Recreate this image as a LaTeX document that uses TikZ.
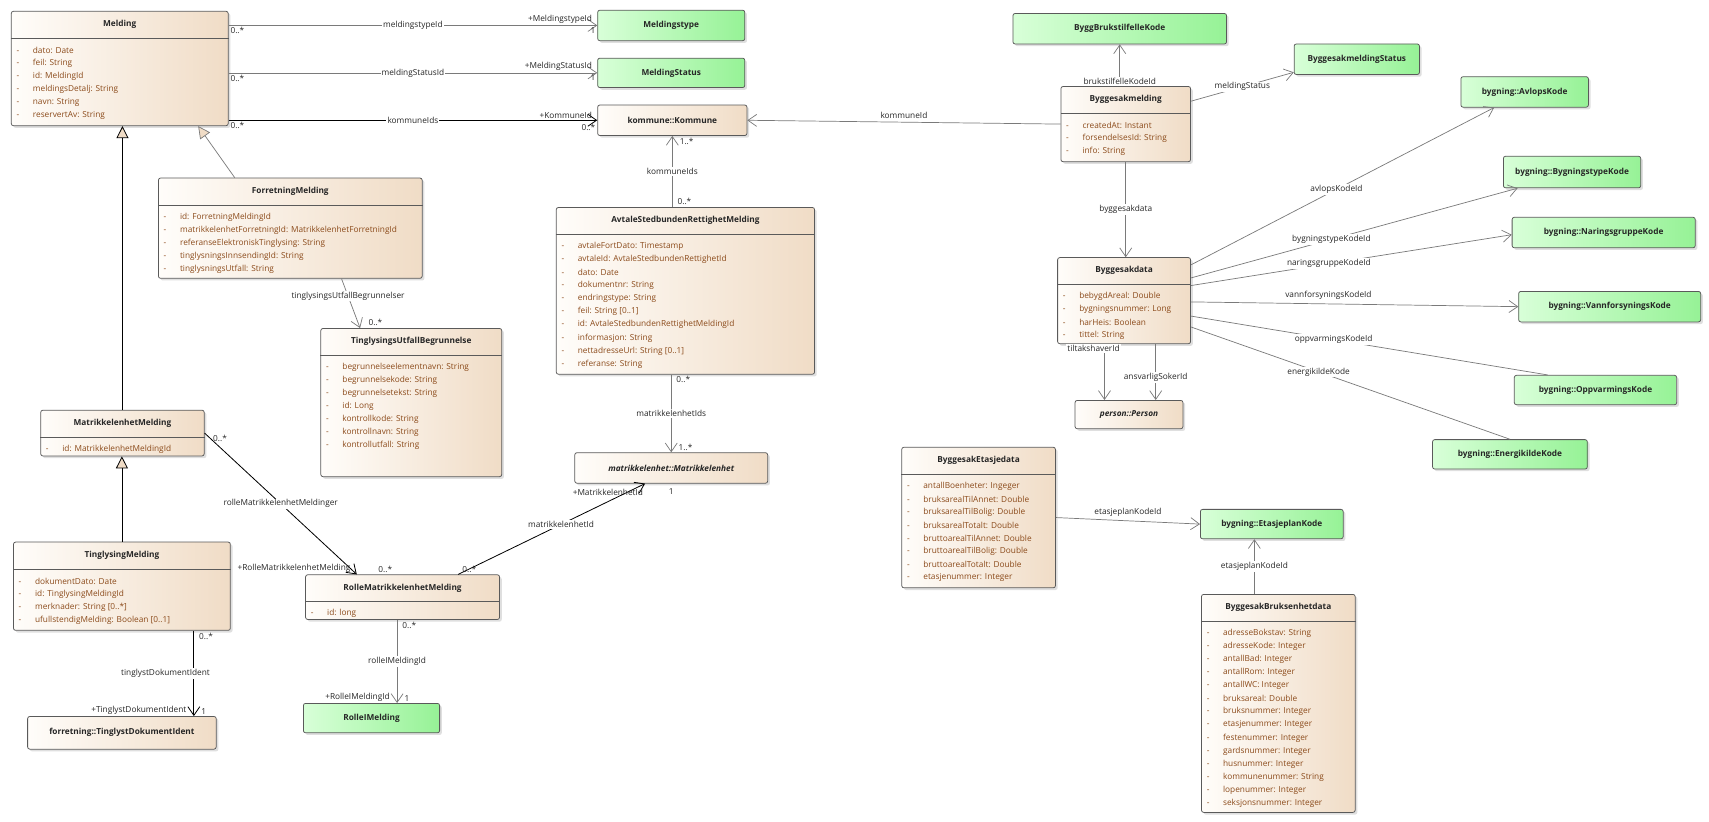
\documentclass[tikz,border=0pt]{standalone}
\usepackage{fontspec}
\setmainfont{Open Sans}
\usetikzlibrary{arrows.meta,shadows}

\definecolor{clsleft}{HTML}{FFFDFA}
\definecolor{clsright}{HTML}{F0DCC6}
\definecolor{codeleft}{HTML}{D8FFD8}
\definecolor{coderight}{HTML}{96F296}
\definecolor{attrtext}{HTML}{8B4A1A}
\definecolor{edge}{HTML}{5A5A5A}
\definecolor{wirecol}{HTML}{7A7A7A}

% class box with title and attribute list
\newcommand{\umlclass}[6]{%
  \node[cls, anchor=north west, minimum width=#3pt, minimum height=#4pt] (#1) at (#2) {};
  \node[ctitle] (#1-t) at ([yshift=-12.5pt]#1.north) {#5};
  \draw[csep] ([yshift=-25pt]#1.north west) -- ([yshift=-25pt]#1.north east);
  \foreach \attr [count=\i] in {#6}
    \node[cattr] (#1-\i) at ([xshift=5pt, yshift={-24pt-12pt*\i}]#1.north west) {\makebox[15pt][l]{-}\attr};
}

\begin{document}
\begin{tikzpicture}
  [x=1pt, y=-1pt,
  every node/.style={font=\fontsize{7.6}{9}\selectfont, text=black!85},
  base/.style={draw=edge, rounded corners=2pt, line width=0.7pt, inner sep=2pt,
    font=\fontsize{7.6}{9}\selectfont\bfseries,
    drop shadow={shadow xshift=2pt, shadow yshift=-2pt, opacity=0.25}},
  cls/.style={base, left color=clsleft, right color=clsright},
  code/.style={base, left color=codeleft, right color=coderight},
  ctitle/.style={font=\fontsize{7.6}{9}\selectfont\bfseries, inner sep=0pt},
  csep/.style={draw=edge, line width=0.6pt},
  cattr/.style={anchor=west, inner sep=0pt, text=attrtext},
  wire/.style={draw=wirecol, line width=0.65pt},
  strong/.style={draw=black, line width=0.75pt},
  arr/.style={-{Straight Barb[length=8pt, width=11pt]}},
  gen/.style={-{Triangle[length=11pt, width=11pt, fill=clsright]}},
  lbl/.style={fill=white, inner sep=1pt},
  mult/.style={inner sep=1.5pt}]

  \fill[white] (0,0) rectangle (1568,754);
  \useasboundingbox (0,0) rectangle (1568,754);

  % classes
  \umlclass{melding}{10,10}{199}{105}{Melding}{dato: Date, feil: String, id: MeldingId,
    meldingsDetalj: String, navn: String, reservertAv: String}
  \umlclass{forretning}{145,163}{242}{92}{ForretningMelding}{id: ForretningMeldingId,
    matrikkelenhetForretningId: MatrikkelenhetForretningId,
    referanseElektroniskTinglysing: String, tinglysningsInnsendingId: String,
    tinglysningsUtfall: String}
  \umlclass{utfall}{294,301}{166}{136}{TinglysingsUtfallBegrunnelse}{begrunnelseelementnavn: String,
    begrunnelsekode: String, begrunnelsetekst: String, id: Long, kontrollkode: String,
    kontrollnavn: String, kontrollutfall: String}
  \umlclass{matmelding}{37,376}{150}{42}{MatrikkelenhetMelding}{id: MatrikkelenhetMeldingId}
  \umlclass{tinglysing}{12,497}{199}{81}{TinglysingMelding}{dokumentDato: Date,
    id: TinglysingMeldingId, merknader: String [0..*], ufullstendigMelding: Boolean [0..1]}
  \umlclass{rolle}{280,527}{178}{41}{RolleMatrikkelenhetMelding}{id: long}
  \umlclass{avtale}{510,190}{237}{153}{AvtaleStedbundenRettighetMelding}{avtaleFortDato: Timestamp,
    avtaleId: AvtaleStedbundenRettighetId, dato: Date, dokumentnr: String,
    endringstype: String, feil: String [0..1], id: AvtaleStedbundenRettighetMeldingId,
    informasjon: String, nettadresseUrl: String [0..1], referanse: String}
  \umlclass{byggmeld}{973,79}{119}{69}{Byggesakmelding}{createdAt: Instant,
    forsendelsesId: String, info: String}
  \umlclass{byggdata}{970,236}{122}{79}{Byggesakdata}{bebygdAreal: Double,
    bygningsnummer: Long, harHeis: Boolean, tittel: String}
  \umlclass{etasje}{827,410}{141}{129}{ByggesakEtasjedata}{antallBoenheter: Ingeger,
    bruksarealTilAnnet: Double, bruksarealTilBolig: Double, bruksarealTotalt: Double,
    bruttoarealTilAnnet: Double, bruttoarealTilBolig: Double, bruttoarealTotalt: Double,
    etasjenummer: Integer}
  \umlclass{bruksenhet}{1102,545}{141}{200}{ByggesakBruksenhetdata}{adresseBokstav: String,
    adresseKode: Integer, antallBad: Integer, antallRom: Integer, antallWC: Integer,
    bruksareal: Double, bruksnummer: Integer, etasjenummer: Integer, festenummer: Integer,
    gardsnummer: Integer, husnummer: Integer, kommunenummer: String, lopenummer: Integer,
    seksjonsnummer: Integer}

  % referenced classes and code lists
  \node[cls, anchor=north west, minimum width=137pt, minimum height=28pt] (kommune) at (548,96) {kommune::Kommune};
  \node[cls, anchor=north west, minimum width=173pt, minimum height=30pt] (dokident) at (25,657) {forretning::TinglystDokumentIdent};
  \node[cls, anchor=north west, minimum width=177pt, minimum height=28pt] (matenhet) at (527,415) {\itshape matrikkelenhet::Matrikkelenhet};
  \node[cls, anchor=north west, minimum width=99pt, minimum height=26pt] (person) at (986,367) {\itshape person::Person};
  \node[code, anchor=north west, minimum width=135pt, minimum height=28pt] (mtype) at (548,9) {Meldingstype};
  \node[code, anchor=north west, minimum width=135pt, minimum height=27pt] (mstatus) at (548,53) {MeldingStatus};
  \node[code, anchor=north west, minimum width=125pt, minimum height=27pt] (rolleim) at (278,645) {RolleIMelding};
  \node[code, anchor=north west, minimum width=196pt, minimum height=28pt] (brukstilf) at (929,12) {ByggBrukstilfelleKode};
  \node[code, anchor=north west, minimum width=115pt, minimum height=28pt] (bmstatus) at (1187,40) {ByggesakmeldingStatus};
  \node[code, anchor=north west, minimum width=117pt, minimum height=28pt] (avlop) at (1340,70) {bygning::AvlopsKode};
  \node[code, anchor=north west, minimum width=126pt, minimum height=29pt] (bygtype) at (1379,143) {bygning::BygningstypeKode};
  \node[code, anchor=north west, minimum width=168pt, minimum height=28pt] (naring) at (1387,199) {bygning::NaringsgruppeKode};
  \node[code, anchor=north west, minimum width=167pt, minimum height=28pt] (vann) at (1393,267) {bygning::VannforsyningsKode};
  \node[code, anchor=north west, minimum width=149pt, minimum height=27pt] (oppvarm) at (1389,344) {bygning::OppvarmingsKode};
  \node[code, anchor=north west, minimum width=142pt, minimum height=27pt] (energi) at (1314,403) {bygning::EnergikildeKode};
  \node[code, anchor=north west, minimum width=131pt, minimum height=27pt] (etasjeplan) at (1101,467) {bygning::EtasjeplanKode};

  % Melding associations
  \draw[wire, arr] (melding.east |- mtype.west) -- node[lbl] {meldingstypeId}
    node[mult, pos=0, below right] {0..*} node[mult, pos=1, above left, xshift=-3pt] {+MeldingstypeId}
    node[mult, pos=1, below left] {1} (mtype.west);
  \draw[wire, arr] (melding.east |- mstatus.west) -- node[lbl] {meldingStatusId}
    node[mult, pos=0, below right] {0..*} node[mult, pos=1, above left, xshift=-3pt] {+MeldingStatusId}
    node[mult, pos=1, below left] {1} (mstatus.west);
  \draw[strong, arr] (melding.east |- kommune.west) -- node[lbl] {kommuneIds}
    node[mult, pos=0, below right] {0..*} node[mult, pos=1, above left, xshift=-3pt] {+KommuneId}
    node[mult, pos=1, below left, yshift=-2pt] {0..*} (kommune.west);

  % generalisations
  \draw[strong, gen] (matmelding.north) -- (matmelding.north |- melding.south);
  \draw[wire, gen] ([xshift=-51pt]forretning.north) -- ([xshift=72pt]melding.south);
  \draw[strong, gen] (tinglysing.north) -- (tinglysing.north |- matmelding.south);

  \draw[wire, arr] ([xshift=47pt]forretning.south) -- node[lbl, pos=0.35] {tinglysingsUtfallBegrunnelser}
    node[mult, pos=1, above right, xshift=6pt] {0..*} ([xshift=-47pt]utfall.north);
  \draw[strong, arr] (matmelding.east) -- node[lbl, pos=0.5] {rolleMatrikkelenhetMeldinger}
    node[mult, pos=0, below right, xshift=6pt] {0..*} node[mult, pos=1, above left, xshift=-4pt] {+RolleMatrikkelenhetMelding}
    node[mult, pos=1, above right, xshift=18pt] {0..*} ([xshift=-42pt]rolle.north);
  \draw[strong, arr] ([xshift=51pt]rolle.north) -- node[lbl, pos=0.55] {matrikkelenhetId}
    node[mult, pos=0, above right, xshift=2pt] {0..*} node[mult, pos=1, below left, yshift=-3pt] {+MatrikkelenhetId}
    node[mult, pos=1, below right, xshift=20pt, yshift=-3pt] {1} ([xshift=-24pt]matenhet.south);
  \draw[wire, arr] (avtale.south -| matenhet.north) -- node[lbl] {matrikkelenhetIds}
    node[mult, pos=0, below right, xshift=3pt] {0..*} node[mult, pos=1, above right, xshift=5pt] {1..*} (matenhet.north);
  \draw[wire, arr] (avtale.north -| kommune.south) -- node[lbl] {kommuneIds}
    node[mult, pos=0, above right, xshift=3pt] {0..*} node[mult, pos=1, below right, xshift=5pt] {1..*} (kommune.south);
  \draw[strong, arr] ([xshift=66pt]tinglysing.south) -- node[lbl, xshift=-26pt] {tinglystDokumentIdent}
    node[mult, pos=0, below right, xshift=3pt] {0..*} node[mult, pos=1, above left, xshift=-5pt] {+TinglystDokumentIdent}
    node[mult, pos=1, above right, xshift=5pt] {1} ([xshift=66pt]tinglysing.south |- dokident.north);
  \draw[wire, arr] ([xshift=-5pt]rolle.south) -- node[lbl] {rolleIMeldingId}
    node[mult, pos=0, below right, xshift=3pt] {0..*} node[mult, pos=1, above left, xshift=-5pt] {+RolleIMeldingId}
    node[mult, pos=1, above right, xshift=5pt] {1} ([xshift=-5pt]rolle.south |- rolleim.north);

  % Byggesak
  \draw[wire, arr] (brukstilf.south |- byggmeld.north) -- node[lbl, pos=0, above] {brukstilfelleKodeId} (brukstilf.south);
  \draw[wire, arr] ([yshift=21pt]byggmeld.east) -- node[lbl] {meldingStatus} ([yshift=-12pt]bmstatus.west);
  \draw[wire, arr] (byggmeld.west) -- node[above] {kommuneId} (kommune.east);
  \draw[wire, arr] (byggmeld.south) -- node[lbl] {byggesakdata} (byggmeld.south |- byggdata.north);
  \draw[wire, arr] ([yshift=-7pt]byggdata.north east) -- node[lbl, pos=0.48] {avlopsKodeId} ([xshift=-28pt]avlop.south);
  \draw[wire, arr] ([yshift=-19pt]byggdata.north east) -- node[lbl, pos=0.43] {bygningstypeKodeId} ([xshift=-50pt]bygtype.south);
  \draw[wire, arr] ([yshift=-26pt]byggdata.north east) -- node[lbl, pos=0.43] {naringsgruppeKodeId} ([yshift=-2pt]naring.west);
  \draw[wire, arr] ([yshift=-41pt]byggdata.north east) -- node[above, pos=0.42] {vannforsyningsKodeId} (vann.west);
  \draw[wire] ([yshift=-54pt]byggdata.north east) -- node[lbl, pos=0.4] {oppvarmingsKodeId} ([xshift=31pt]oppvarm.north west);
  \draw[wire] ([yshift=-64pt]byggdata.north east) -- node[lbl, pos=0.4] {energikildeKode} (energi.north);
  \draw[wire, arr] ([xshift=-18pt]byggdata.south) -- node[lbl, pos=0, below, xshift=-10pt] {tiltakshaverId}
    ([xshift=-18pt]byggdata.south |- person.north);
  \draw[wire, arr] ([xshift=29pt]byggdata.south) -- node[lbl, pos=0.6] {ansvarligSokerId}
    ([xshift=29pt]byggdata.south |- person.north);
  \draw[wire, arr] (etasje.east) -- node[above] {etasjeplanKodeId} (etasjeplan.west);
  \draw[wire, arr] ([xshift=-22pt]bruksenhet.north) -- node[lbl] {etasjeplanKodeId}
    ([xshift=-22pt]bruksenhet.north |- etasjeplan.south);
\end{tikzpicture}
\end{document}
